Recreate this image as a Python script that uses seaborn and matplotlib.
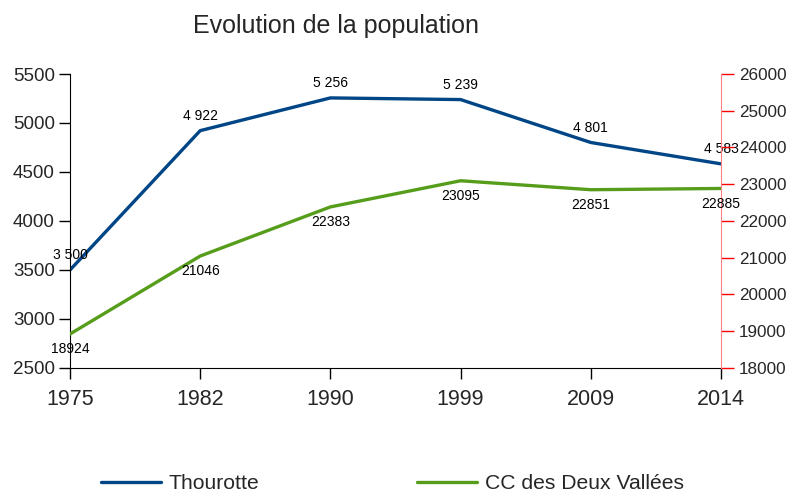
import matplotlib
matplotlib.use("Agg")
import matplotlib.pyplot as plt
import seaborn as sns
import pandas as pd

years = ["1975", "1982", "1990", "1999", "2009", "2014"]
thourotte = [3500, 4922, 5256, 5239, 4801, 4583]
cc_deux_vallees = [18924, 21046, 22383, 23095, 22851, 22885]
series_names = ["Thourotte", "CC des Deux Vallées"]

sns.set_style("white")
plt.rcParams["font.family"] = ["Liberation Sans", "DejaVu Sans"]

blue = "#004586"
green = "#579d1c"

fig = plt.figure(figsize=(7.91, 4.97), dpi=100)
ax = fig.add_axes([0.0885, 0.2596, 0.823, 0.5915])
ax2 = ax.twinx()

pos = list(range(len(years)))
df1 = pd.DataFrame({"x": pos, "y": thourotte})
df2 = pd.DataFrame({"x": pos, "y": cc_deux_vallees})

sns.lineplot(data=df1, x="x", y="y", ax=ax, color=blue, linewidth=2.4, label=series_names[0], legend=False)
sns.lineplot(data=df2, x="x", y="y", ax=ax2, color=green, linewidth=2.4, label=series_names[1], legend=False)

ax.set_xlim(0, len(years) - 1)
ax.set_ylim(2500, 5500)
ax2.set_ylim(18000, 26000)
ax.set_yticks(range(2500, 5501, 500))
ax2.set_yticks(range(18000, 26001, 1000))
ax.set_xticks(pos)
ax.set_xticklabels(years)
ax.set_xlabel("")
ax.set_ylabel("")
ax2.set_ylabel("")

for a in (ax, ax2):
    a.spines["top"].set_visible(False)
    a.grid(False)

ax.spines["left"].set_color("black")
ax.spines["bottom"].set_color("black")
ax.spines["right"].set_visible(False)
ax2.spines["left"].set_visible(False)
ax2.spines["bottom"].set_visible(False)
ax2.spines["right"].set_color("#ff8080")

ax.tick_params(axis="y", which="both", left=True, direction="out", length=8, width=1, color="black", labelsize=13.5, pad=3)
ax.tick_params(axis="x", which="both", bottom=True, direction="out", length=8, width=1, color="black", labelsize=15.5, pad=7)
ax2.tick_params(axis="y", which="both", right=True, left=False, direction="out", length=9, width=1, color="red", labelsize=12.3, pad=4)

for x, v in zip(pos, thourotte):
    ax.annotate(f"{v:,}".replace(",", " "), (x, v), xytext=(0, 5.5), textcoords="offset points",
                ha="center", va="bottom", fontsize=10, color="black")
for x, v in zip(pos, cc_deux_vallees):
    ax2.annotate(f"{v}", (x, v), xytext=(0, -6), textcoords="offset points",
                 ha="center", va="top", fontsize=10, color="black")

fig.text(0.425, 0.948, "Evolution de la population", ha="center", va="center", fontsize=18)

h1 = ax.get_lines()[0]
h2 = ax2.get_lines()[0]
fig.legend([h1, h2], series_names, loc="center", bbox_to_anchor=(0.496, 0.027), ncol=2,
           frameon=False, fontsize=15.2, handlelength=2.85, handletextpad=0.38, columnspacing=7.45,
           borderaxespad=0, borderpad=0.1)

fig.savefig("out.png", dpi=100)
